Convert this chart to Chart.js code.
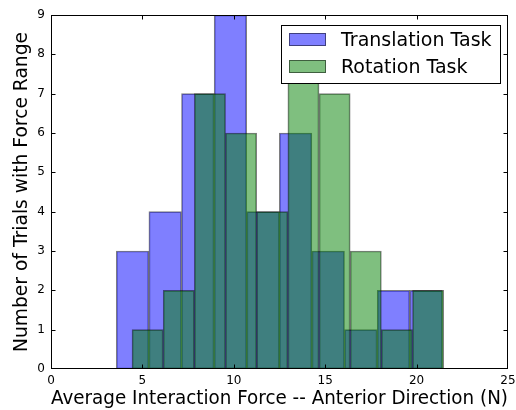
<!DOCTYPE html>
<html>
<head>
<meta charset="utf-8">
<script src="https://cdn.jsdelivr.net/npm/chart.js@4.4.1/dist/chart.umd.min.js"></script>
<style>
html, body { margin: 0; padding: 0; background: #ffffff; }
#wrap { width: 516px; height: 410px; }
</style>
</head>
<body>
<div id="wrap"><canvas id="c" width="516" height="410"></canvas></div>
<script>
// ---- data ----
const seriesLabels = ['Translation Task', 'Rotation Task'];
const translationEdges = [3.57, 5.35, 7.14, 8.92, 10.71, 12.49, 14.27, 16.06, 17.84, 19.63, 21.41];
const translationCounts = [3, 4, 7, 9, 4, 6, 3, 1, 2, 2];
const rotationEdges = [4.43, 6.14, 7.84, 9.55, 11.25, 12.96, 14.66, 16.37, 18.07, 19.78, 21.48];
const rotationCounts = [1, 2, 7, 6, 4, 8, 7, 3, 1, 2];
const xTickValues = [0, 5, 10, 15, 20, 25];
const yTickValues = [0, 1, 2, 3, 4, 5, 6, 7, 8, 9];
const xAxisTitle = 'Average Interaction Force -- Anterior Direction (N)';
const yAxisTitle = 'Number of Trials with Force Range';

// ---- build bar points (bin centres from edges) ----
function toBars(edges, counts) {
  return counts.map((c, i) => ({ x: (edges[i] + edges[i + 1]) / 2, y: c }));
}

const FONT = '"DejaVu Sans", "Liberation Sans", sans-serif';
const TITLE_SIZE = 18.7;
const LEGEND_SIZE = 19;
const BLUE = 'rgba(0,0,255,0.5)';
const GREEN = 'rgba(0,128,0,0.5)';
const EDGE = 'rgba(0,0,0,0.5)';

const framePlugin = {
  id: 'framePlugin',
  afterDatasetsDraw(chart) {
    const { ctx, chartArea: a, scales } = chart;
    ctx.save();
    ctx.strokeStyle = '#000';
    ctx.lineWidth = 1;
    const L = Math.round(a.left) + 0.5, R = Math.round(a.right) - 0.5;
    const T = Math.round(a.top) + 0.5, B = Math.round(a.bottom) - 0.5;
    const tl = 4;
    ctx.beginPath();
    scales.x.ticks.forEach(t => {
      const px = Math.round(scales.x.getPixelForValue(t.value)) + 0.5;
      if (px <= L + 1 || px >= R - 1) return;
      ctx.moveTo(px, B); ctx.lineTo(px, B - tl);
      ctx.moveTo(px, T); ctx.lineTo(px, T + tl);
    });
    scales.y.ticks.forEach(t => {
      const py = Math.round(scales.y.getPixelForValue(t.value)) + 0.5;
      if (py <= T + 1 || py >= B - 1) return;
      ctx.moveTo(L, py); ctx.lineTo(L + tl, py);
      ctx.moveTo(R, py); ctx.lineTo(R - tl, py);
    });
    ctx.stroke();
    ctx.strokeRect(L, T, R - L, B - T);
    ctx.restore();
  },
  afterDraw(chart) {
    const { ctx, chartArea: a } = chart;
    const ds = chart.data.datasets;
    ctx.save();
    ctx.font = LEGEND_SIZE + 'px ' + FONT;
    let tw = 0;
    ds.forEach(d => { tw = Math.max(tw, ctx.measureText(d.label).width); });
    const padL = 7.5, swW = 37, gap = 15, padR = 9;
    const boxW = Math.round(padL + swW + gap + tw + padR);
    const boxH = 58;
    const x0 = Math.round(a.right - 8.5 - boxW) + 0.5;
    const y0 = Math.round(a.top + 10) + 0.5;
    ctx.fillStyle = '#fff';
    ctx.fillRect(x0, y0, boxW, boxH);
    ctx.strokeStyle = '#000';
    ctx.lineWidth = 1;
    ctx.strokeRect(x0, y0, boxW, boxH);
    ds.forEach((d, i) => {
      const cy = y0 + 14.5 + i * 27;
      const sx = Math.round(x0 + padL), sy = Math.round(cy - 7);
      ctx.fillStyle = d.backgroundColor;
      ctx.fillRect(sx, sy, swW, 13);
      ctx.strokeStyle = d.borderColor;
      ctx.strokeRect(sx + 0.5, sy + 0.5, swW - 1, 12);
      ctx.fillStyle = '#000';
      ctx.textBaseline = 'alphabetic';
      ctx.textAlign = 'left';
      ctx.fillText(d.label, x0 + padL + swW + gap, cy + 5.5);
    });
    ctx.restore();
  }
};

new Chart(document.getElementById('c'), {
  type: 'bar',
  data: {
    datasets: [
      {
        label: seriesLabels[0],
        data: toBars(translationEdges, translationCounts),
        xAxisID: 'x',
        backgroundColor: BLUE,
        borderColor: EDGE,
        borderWidth: 1,
        borderSkipped: false,
        barPercentage: 1,
        categoryPercentage: 1,
        grouped: false,
        order: 1
      },
      {
        label: seriesLabels[1],
        data: toBars(rotationEdges, rotationCounts),
        xAxisID: 'x2',
        backgroundColor: GREEN,
        borderColor: EDGE,
        borderWidth: 1,
        borderSkipped: false,
        barPercentage: 1,
        categoryPercentage: 1,
        grouped: false,
        order: 0
      }
    ]
  },
  options: {
    responsive: false,
    devicePixelRatio: 1,
    animation: false,
    layout: { padding: { left: 0, right: 8, top: 15, bottom: 0 } },
    plugins: {
      legend: { display: false },
      tooltip: { enabled: false }
    },
    scales: {
      x: {
        type: 'linear',
        position: 'bottom',
        min: 0, max: 25,
        offset: false,
        grid: { display: false, drawTicks: false },
        border: { display: false },
        afterBuildTicks: s => { s.ticks = xTickValues.map(v => ({ value: v })); },
        ticks: { color: '#000', font: { family: FONT, size: 12 }, padding: 5, maxRotation: 0, autoSkip: false },
        title: { display: true, text: xAxisTitle, color: '#000', font: { family: FONT, size: TITLE_SIZE }, padding: { top: 0, bottom: 0 } },
        afterFit: s => { s.height = 41; s.paddingLeft = 0; s.paddingRight = 0; }
      },
      x2: {
        type: 'linear',
        display: false,
        min: 0, max: 25,
        offset: false,
        afterBuildTicks: s => { s.ticks = xTickValues.map(v => ({ value: v })); }
      },
      y: {
        type: 'linear',
        min: 0, max: 9,
        grid: { display: false, drawTicks: false },
        border: { display: false },
        afterBuildTicks: s => { s.ticks = yTickValues.map(v => ({ value: v })); },
        ticks: { color: '#000', font: { family: FONT, size: 12 }, padding: 6 },
        title: { display: true, text: yAxisTitle, color: '#000', font: { family: FONT, size: TITLE_SIZE }, padding: { top: 10.5, bottom: 0 } },
        afterFit: s => { s.width = 51; s.paddingTop = 0; s.paddingBottom = 0; }
      }
    }
  },
  plugins: [framePlugin]
});
</script>
</body>
</html>
